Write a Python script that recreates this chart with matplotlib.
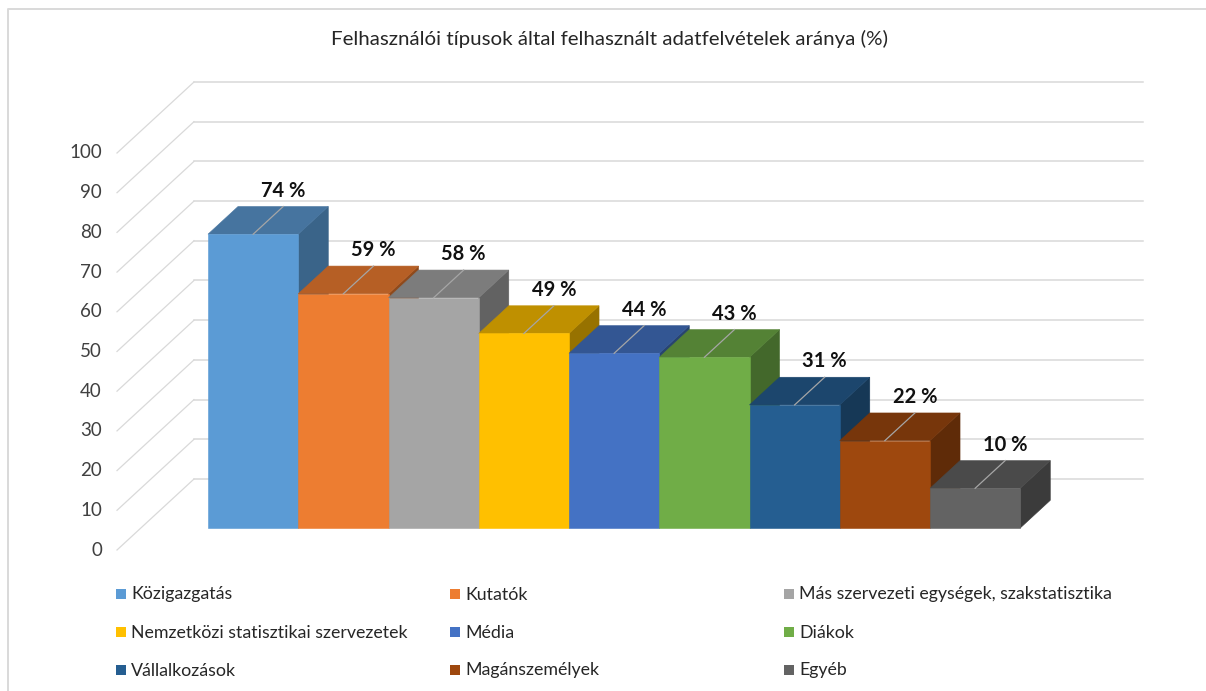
import matplotlib
matplotlib.use("Agg")
import matplotlib.pyplot as plt
from matplotlib.patches import Polygon, Rectangle
from matplotlib.lines import Line2D

title = "Felhasználói típusok által felhasznált adatfelvételek aránya (%)"
categories = ["Közigazgatás", "Kutatók", "Más szervezeti egységek, szakstatisztika",
              "Nemzetközi statisztikai szervezetek", "Média", "Diákok",
              "Vállalkozások", "Magánszemélyek", "Egyéb"]
values = [74, 59, 58, 49, 44, 43, 31, 22, 10]
y_ticks = [0, 10, 20, 30, 40, 50, 60, 70, 80, 90, 100]
front_colors = ["#5B9BD5", "#ED7D31", "#A5A5A5", "#FFC000", "#4472C4", "#70AD47", "#255E91", "#9E480E", "#636363"]
top_colors = ["#46749F", "#B65F25", "#7C7C7C", "#BF9000", "#335693", "#548235", "#1C466D", "#77360B", "#4A4A4A"]
side_colors = ["#3A6489", "#8F4A1C", "#626262", "#977200", "#284470", "#43682B", "#163856", "#5F2B08", "#3B3B3B"]

W, H = 1206, 691
PX_X = 90.25      # pixels per category
PX_Y = 3.97       # pixels per percent
X0_PX, Y0_PX = 208, 550
DX = 77 / PX_X    # full depth in data units
DY = 71 / PX_Y
Z_FRONT, Z_BACK = 0.31, 0.70


def P(u, v, z):
    """Oblique projection, with u measured on the plane of the bars' front faces."""
    return (u + (z - Z_FRONT) * DX, v + z * DY)


FONT = ["Lato", "DejaVu Sans"]
GRID = "#D9D9D9"
TXT = "#262626"

fig = plt.figure(figsize=(W / 100, H / 100), dpi=100)
fig.patch.set_facecolor("white")
ax = fig.add_axes([0, 0, 1, 1])
ax.set_xlim(-X0_PX / PX_X, (W - X0_PX) / PX_X)
ax.set_ylim((Y0_PX - H) / PX_Y, Y0_PX / PX_Y)
ax.axis("off")

# frame of the chart area
fig.add_artist(Line2D([8 / W, 8 / W, 1], [0, 1 - 9 / H, 1 - 9 / H], color=GRID, lw=1.4))

# walls
u_wall_left = (194 - X0_PX) / PX_X - (1 - Z_FRONT) * DX
u_right = (1143 - X0_PX) / PX_X - (1 - Z_FRONT) * DX
for t in y_ticks:
    a = P(u_wall_left, t, 0)
    b = P(u_wall_left, t, 1)
    c = P(u_right, t, 1)
    ax.plot([a[0], b[0]], [a[1], b[1]], color=GRID, lw=0.9, zorder=1)
    ax.plot([b[0], c[0]], [b[1], c[1]], color=GRID, lw=1.1, zorder=1)
    ax.text(a[0] - 15 / PX_X, t, str(t), ha="right", va="center",
            fontsize=13.5, color="#404040", family=FONT, zorder=2)

# bars
for i, v in enumerate(values):
    l, r = i, i + 1
    fl, fr = P(l, v, Z_FRONT), P(r, v, Z_FRONT)
    bl, br = P(l, v, Z_BACK), P(r, v, Z_BACK)
    f0l, f0r = P(l, 0, Z_FRONT), P(r, 0, Z_FRONT)
    b0r = P(r, 0, Z_BACK)
    z = 3 + i
    ax.add_patch(Polygon([fr, br, b0r, f0r], fc=side_colors[i], ec=side_colors[i], lw=0.4, zorder=z))
    ax.add_patch(Polygon([fl, fr, br, bl], fc=top_colors[i], ec=top_colors[i], lw=0.4, zorder=z))
    ax.add_patch(Polygon([f0l, f0r, fr, fl], fc=front_colors[i], ec=front_colors[i], lw=0.4, zorder=z))
    m0 = P(i + 0.5, v, Z_FRONT)
    m1 = P(i + 0.5, v, Z_BACK)
    ax.plot([m0[0], m1[0]], [m0[1], m1[1]], color="#A6A6A6", lw=0.9, zorder=z + 0.1)
    ax.annotate(f"{v} %", xy=m1, xytext=(0, 11.5), textcoords="offset points", ha="center", va="center",
                fontsize=14.5, fontweight="bold", color="#111111", family=FONT, zorder=30)

# title
fig.text(609.5 / W, 1 - 39 / H, title, ha="center", va="center", fontsize=14.75, color=TXT, family=FONT)

# legend
col_px = [116, 450, 784]
row_px = [594, 632, 670]
for i, name in enumerate(categories):
    x, y = col_px[i % 3], row_px[i // 3]
    fig.add_artist(Rectangle((x / W, 1 - (y + 5) / H), 10 / W, 10 / H, fc=front_colors[i], ec="none",
                             transform=fig.transFigure))
    fig.text((x + 15) / W, 1 - (y + 0.5) / H, name, ha="left", va="center", fontsize=12.8, color=TXT, family=FONT)

fig.savefig("out.png", dpi=100)
